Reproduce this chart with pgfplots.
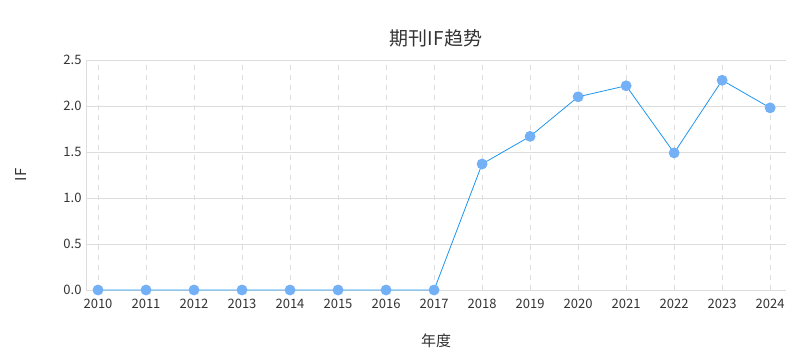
\documentclass[border=0pt]{standalone}
\usepackage{pgfplots}
\pgfplotsset{compat=1.18}
\usepackage{fontspec}
\setmainfont{Noto Sans CJK SC}
\definecolor{linec}{HTML}{1E96F0}
\definecolor{markc}{HTML}{73B0F5}
\definecolor{gridc}{HTML}{DDDDDD}
\definecolor{txt}{HTML}{333333}
\begin{document}
\begin{tikzpicture}[x=1pt,y=1pt]
\useasboundingbox (-86,-70) rectangle (724,290);
\begin{axis}[
  at={(0,0)}, anchor=south west,
  scale only axis, width=700pt, height=230pt,
  xmin=2009.75, xmax=2024.33, ymin=0, ymax=2.5,
  xtick={2010,...,2024}, ytick={0,0.5,...,2.5},
  xticklabel style={/pgf/number format/1000 sep={}, font=\fontsize{13}{13}\selectfont, text=txt, yshift=-6pt},
  yticklabel style={/pgf/number format/.cd, fixed, fixed zerofill, precision=1, /tikz/.cd, font=\fontsize{13}{13}\selectfont, text=txt, xshift=-1pt},
  /pgf/number format/assume math mode=true,
  major tick length=0pt,
  axis lines=left, axis line style={-, draw=gridc},
  ymajorgrids, xmajorgrids,
  y grid style={gridc, solid},
  x grid style={gridc, dashed, dash pattern=on 5pt off 5pt},
  title={期刊IF趋势}, title style={font=\fontsize{19}{19}\selectfont, text=txt, yshift=3pt},
  xlabel={年度}, ylabel={IF},
  xlabel style={font=\fontsize{15}{15}\selectfont, text=txt, yshift=-18pt},
  ylabel style={font=\fontsize{15}{15}\selectfont, text=txt, yshift=30pt},
  clip=false,
]
\addplot[linec, line width=0.8pt, mark=*, mark size=5pt, mark options={fill=markc, draw=markc}] coordinates {
(2010,0) (2011,0) (2012,0) (2013,0) (2014,0) (2015,0) (2016,0) (2017,0)
(2018,1.37) (2019,1.67) (2020,2.10) (2021,2.22) (2022,1.49) (2023,2.28) (2024,1.98)
};
\end{axis}
\end{tikzpicture}
\end{document}
